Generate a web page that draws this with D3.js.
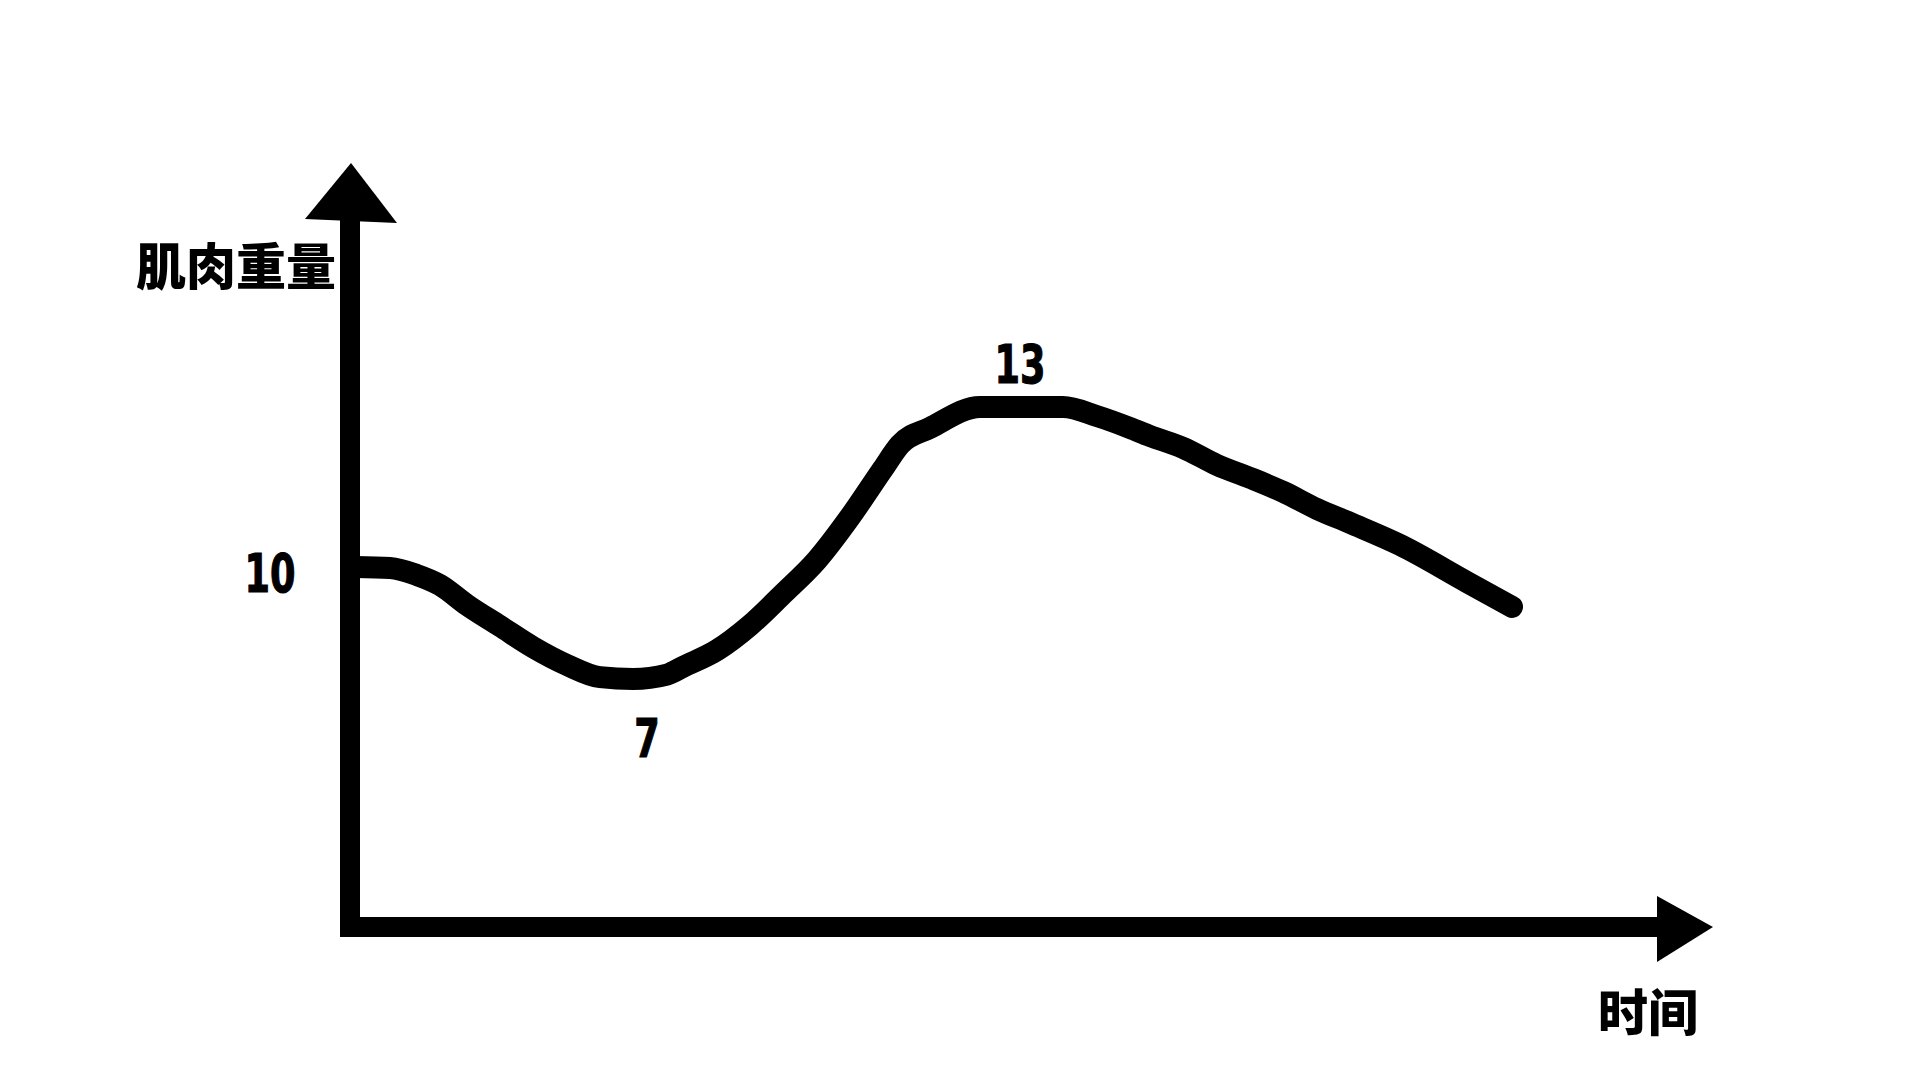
<!DOCTYPE html>
<html>
<head>
<meta charset="utf-8">
<script src="https://cdn.jsdelivr.net/npm/d3@7"></script>
<style>
  html, body { margin: 0; padding: 0; background: #fff; }
  svg { display: block; }
</style>
</head>
<body>
<svg id="chart" width="1920" height="1080"></svg>
<script>
// ---- data (time in arbitrary units, muscle weight as labelled) ----
const timeValues = [0.5, 4, 6.7, 9, 11.7, 15, 18.3, 21.7, 25, 28.3, 31.7, 33.3, 36.7, 40, 43.3, 46.7, 50, 53.3, 55, 58, 63, 71.3, 74.7, 78, 80, 83.3, 86.7, 90, 93.3, 96.7, 100, 105, 111.7, 116.2];
const weightValues = [10.02, 10, 9.81, 9.54, 9.0, 8.43, 7.86, 7.38, 7.05, 7.0, 7.12, 7.33, 7.78, 8.45, 9.3, 10.15, 10.95, 11.85, 12.3, 12.61, 13.0, 13.0, 12.83, 12.61, 12.46, 12.24, 11.92, 11.68, 11.42, 11.1, 10.84, 10.43, 9.62, 8.95];
const labelTexts = ["10", "7", "13"];
const labelTimes = [-8, 29.7, 67];
const labelValues = [10, 7, 13];
const yAxisTitle = "肌肉重量";
const xAxisTitle = "时间";

const svg = d3.select("#chart");

// scales (hand-drawn sketch: the vertical spacing is not uniform)
const x = d3.scaleLinear().domain([0, 130]).range([350, 1650]);
const y = d3.scaleLinear().domain([7, 10, 13]).range([679, 568, 407]);

const axisX = x(0);      // y-axis position
const axisY = 927;       // x-axis position
const axisW = 20;

// curve
const line = d3.line()
  .x((d, i) => x(timeValues[i]))
  .y((d, i) => y(weightValues[i]))
  .curve(d3.curveMonotoneX);

svg.append("path")
  .datum(weightValues)
  .attr("d", line)
  .attr("fill", "none")
  .attr("stroke", "#000")
  .attr("stroke-width", 22)
  .attr("stroke-linecap", "round")
  .attr("stroke-linejoin", "round");

// axes
svg.append("rect")
  .attr("x", axisX - axisW / 2).attr("y", 215)
  .attr("width", axisW).attr("height", axisY + axisW / 2 - 215)
  .attr("fill", "#000");
svg.append("rect")
  .attr("x", axisX - 5).attr("y", axisY - axisW / 2)
  .attr("width", 1660 - axisX + 5).attr("height", axisW)
  .attr("fill", "#000");

// arrow heads
svg.append("path")
  .attr("d", `M${axisX + 1},163 L${axisX - 45},219 L${axisX + 47},223 Z`)
  .attr("fill", "#000");
svg.append("path")
  .attr("d", `M1657,896 L1713,${axisY} L1657,962 Z`)
  .attr("fill", "#000");

// axis titles
const cjk = "'Noto Sans CJK SC', 'Noto Sans CJK JP', sans-serif";
svg.append("text")
  .attr("x", 336).attr("y", 285)
  .attr("text-anchor", "end")
  .attr("font-family", cjk)
  .attr("font-weight", 900)
  .attr("font-size", 50)
  .attr("fill", "#000")
  .text(yAxisTitle);
svg.append("text")
  .attr("x", 1648).attr("y", 1031)
  .attr("text-anchor", "middle")
  .attr("font-family", cjk)
  .attr("font-weight", 900)
  .attr("font-size", 50)
  .attr("fill", "#000")
  .text(xAxisTitle);

// value annotations (condensed digits)
const numFont = "'DejaVu Sans', 'Liberation Sans', sans-serif";
const labelOffsets = [24, 78, -24];
svg.selectAll("text.val")
  .data(labelTexts)
  .join("text")
  .attr("class", "val")
  .attr("transform", (d, i) =>
    `translate(${x(labelTimes[i])},${y(labelValues[i]) + labelOffsets[i]}) scale(0.68,1)`)
  .attr("text-anchor", "middle")
  .attr("font-family", numFont)
  .attr("font-weight", "bold")
  .attr("font-size", 54)
  .attr("fill", "#000")
  .attr("stroke", "#000")
  .attr("stroke-width", 1.2)
  .text(d => d);
</script>
</body>
</html>
